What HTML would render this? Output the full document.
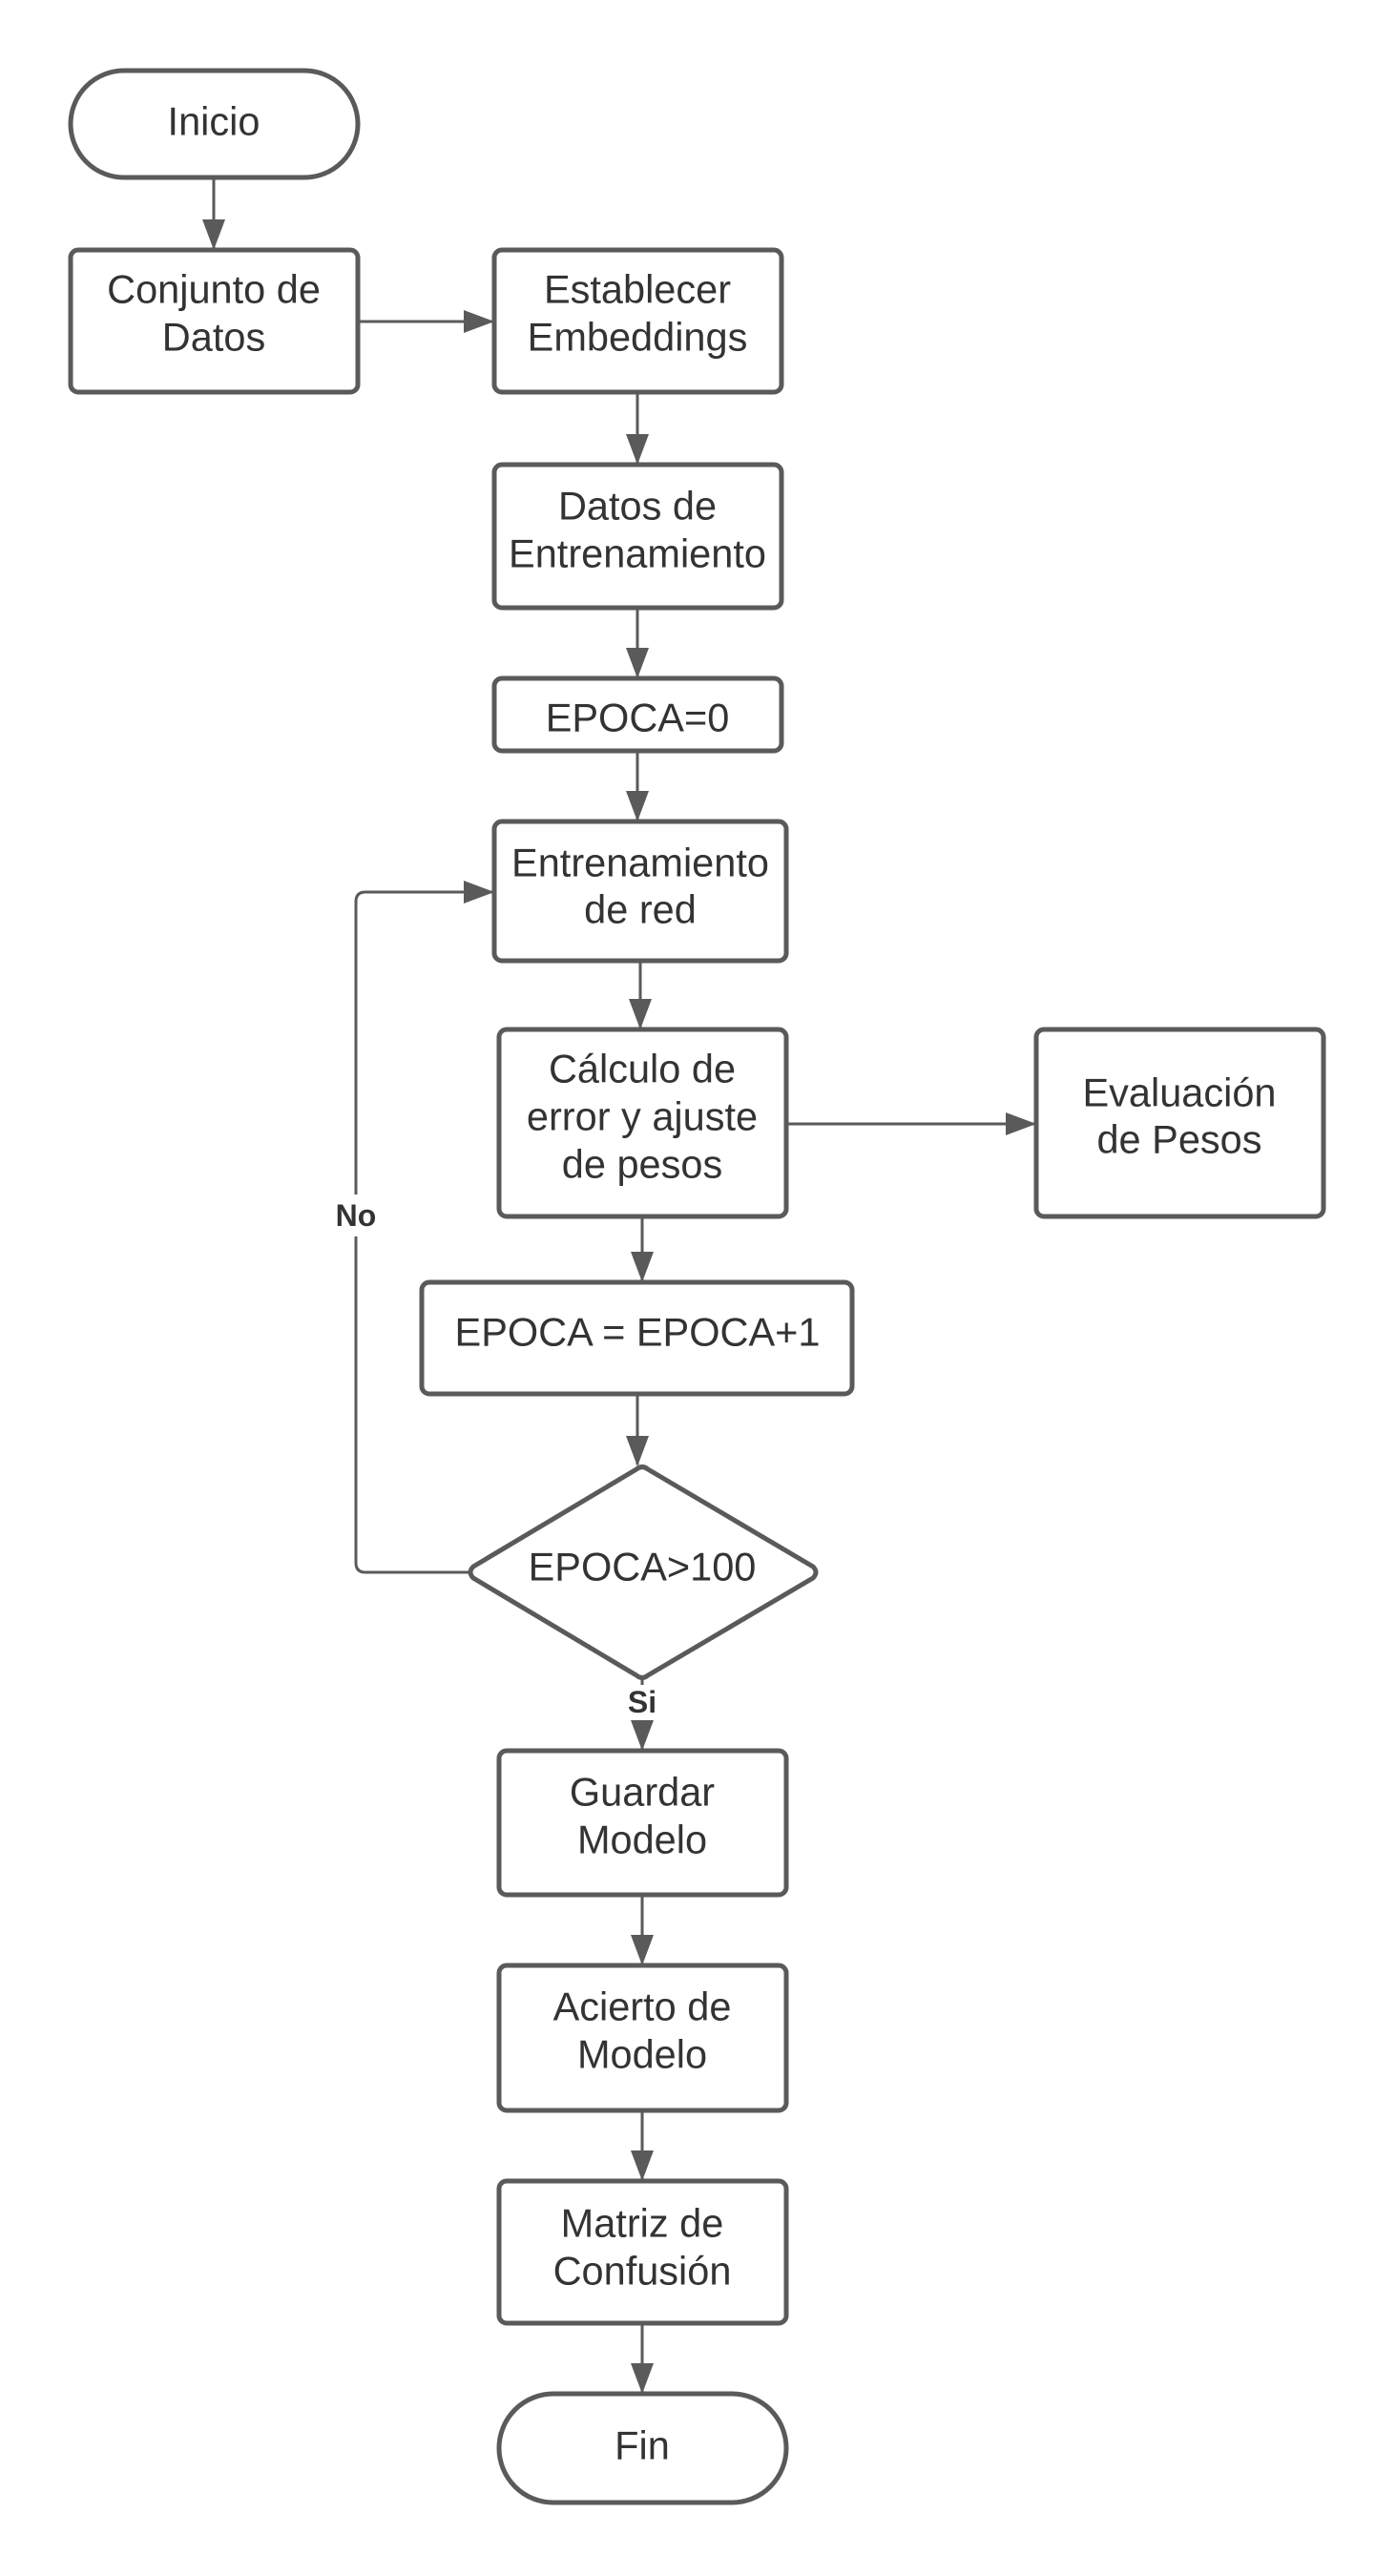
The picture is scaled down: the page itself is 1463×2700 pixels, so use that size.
<!DOCTYPE html>
<html><head><meta charset="utf-8"><style>
html,body{margin:0;padding:0;background:#fff;}
svg{display:block;}
text{font-family:"Liberation Sans",sans-serif;fill:#333;font-size:41.5px;text-anchor:middle;dominant-baseline:central;}
.b{fill:#fff;stroke:#5a5a5a;stroke-width:5;}
.c{fill:none;stroke:#5a5a5a;stroke-width:3;}
</style></head><body>
<svg width="1463" height="2700" viewBox="0 0 1463 2700" xmlns="http://www.w3.org/2000/svg">
<defs>
<marker id="a" markerUnits="userSpaceOnUse" markerWidth="32" markerHeight="24" refX="30" refY="12" orient="auto">
<path d="M0,0 L32,12 L0,24 Z" fill="#5a5a5a"/>
</marker>
</defs>
<path class="c" d="M224,186 V260" marker-end="url(#a)"/>
<path class="c" d="M375,337 H516" marker-end="url(#a)"/>
<path class="c" d="M668,411 V485" marker-end="url(#a)"/>
<path class="c" d="M668,637 V709" marker-end="url(#a)"/>
<path class="c" d="M668,787 V859" marker-end="url(#a)"/>
<path class="c" d="M671,1007 V1077" marker-end="url(#a)"/>
<path class="c" d="M824,1178 H1084" marker-end="url(#a)"/>
<path class="c" d="M673,1275 V1342" marker-end="url(#a)"/>
<path class="c" d="M668,1461 V1535" marker-end="url(#a)"/>
<path class="c" d="M673,1759 V1766"/>
<path class="c" d="M673,1806 V1833" marker-end="url(#a)"/>
<path class="c" d="M673,1986 V2058" marker-end="url(#a)"/>
<path class="c" d="M673,2212 V2284" marker-end="url(#a)"/>
<path class="c" d="M673,2435 V2507" marker-end="url(#a)"/>
<path class="c" d="M491,1648 H383 Q373,1648 373,1638 V1296"/>
<path class="c" d="M373,1252 V945 Q373,935 383,935 H516" marker-end="url(#a)"/>
<rect class="b" x="74" y="74" width="301" height="112" rx="56"/>
<rect class="b" x="74" y="262" width="301" height="149" rx="8"/>
<rect class="b" x="518" y="262" width="301" height="149" rx="8"/>
<rect class="b" x="518" y="487" width="301" height="150" rx="8"/>
<rect class="b" x="518" y="711" width="301" height="76" rx="8"/>
<rect class="b" x="518" y="861" width="306" height="146" rx="8"/>
<rect class="b" x="523" y="1079" width="301" height="196" rx="8"/>
<rect class="b" x="1086" y="1079" width="301" height="196" rx="8"/>
<rect class="b" x="442" y="1344" width="451" height="117" rx="8"/>
<path class="b" d="M667,1540 Q673,1535 679,1540 L852,1642 Q858,1648 852,1654 L679,1756 Q673,1761 667,1756 L496,1654 Q490,1648 496,1642 Z" stroke-linejoin="round"/>
<rect class="b" x="523" y="1835" width="301" height="151" rx="8"/>
<rect class="b" x="523" y="2060" width="301" height="152" rx="8"/>
<rect class="b" x="523" y="2286" width="301" height="149" rx="8"/>
<rect class="b" x="523" y="2509" width="301" height="114" rx="57"/>
<text x="224" y="127">Inicio</text>
<text x="224" y="303">Conjunto de</text><text x="224" y="353">Datos</text>
<text x="668" y="303">Establecer</text><text x="668" y="353">Embeddings</text>
<text x="668" y="530">Datos de</text><text x="668" y="580">Entrenamiento</text>
<text x="668" y="752">EPOCA=0</text>
<text x="671" y="904">Entrenamiento</text><text x="671" y="953">de red</text>
<text x="673" y="1120">Cálculo de</text><text x="673" y="1170">error y ajuste</text><text x="673" y="1220">de pesos</text>
<text x="1236" y="1145">Evaluación</text><text x="1236" y="1194">de Pesos</text>
<text x="668" y="1396">EPOCA = EPOCA+1</text>
<text x="673" y="1642">EPOCA&gt;100</text>
<text x="673" y="1878">Guardar</text><text x="673" y="1928">Modelo</text>
<text x="673" y="2103">Acierto de</text><text x="673" y="2153">Modelo</text>
<text x="673" y="2330">Matriz de</text><text x="673" y="2380">Confusión</text>
<text x="673" y="2563">Fin</text>
<text x="373" y="1274" style="font-size:32px;font-weight:bold">No</text>
<text x="673" y="1784" style="font-size:32px;font-weight:bold">Si</text>
</svg>
</body></html>
